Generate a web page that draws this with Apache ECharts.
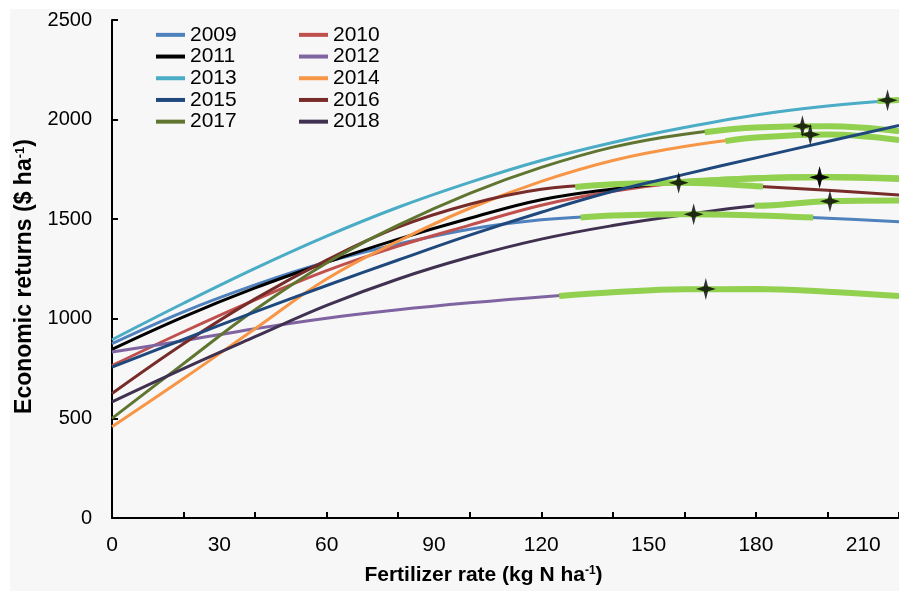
<!DOCTYPE html>
<html>
<head>
<meta charset="utf-8">
<script src="https://cdn.jsdelivr.net/npm/echarts@6/dist/echarts.min.js"></script>
<style>
	body { margin: 0; background: #fff; }
	#chart { width: 899px; height: 591px; }
</style>
</head>
<body>
<div id="chart"></div>
<script>
var font = '"Liberation Sans", Arial, sans-serif';

var years = ['2009', '2010', '2011', '2012', '2013', '2014', '2015', '2016', '2017', '2018'];
var colors = ['#4f81bd', '#c0504d', '#000000', '#8064a2', '#4bacc6', '#f79646', '#1f497d', '#772c2a', '#5f7530', '#403151'];
var green = '#92d050';

// fertilizer rate (kg N/ha) where each curve was read
var rates = [0, 20, 40, 60, 80, 100, 120, 140, 160, 180, 200, 220];

// economic returns ($/ha)
var returns2009 = [875, 1035, 1170, 1285, 1375, 1450, 1497, 1518, 1525, 1519, 1505, 1487];
var returns2010 = [765, 935, 1095, 1242, 1365, 1470, 1570, 1640, 1686, 1705, 1710, 1702];
var returns2011 = [847, 1010, 1155, 1283, 1400, 1505, 1598, 1652, 1688, 1706, 1712, 1705];
var returns2012 = [833, 890, 950, 1003, 1045, 1080, 1110, 1133, 1148, 1149, 1136, 1114];
var returns2013 = [895, 1078, 1253, 1415, 1560, 1685, 1795, 1885, 1960, 2023, 2068, 2098];
var returns2014 = [458, 700, 950, 1200, 1390, 1555, 1690, 1795, 1865, 1910, 1925, 1897];
var returns2015 = [757, 897, 1035, 1167, 1295, 1420, 1535, 1640, 1725, 1808, 1890, 1970];
var returns2016 = [625, 875, 1100, 1295, 1460, 1575, 1650, 1676, 1683, 1666, 1645, 1622];
var returns2017 = [500, 775, 1045, 1280, 1470, 1630, 1760, 1862, 1927, 1960, 1966, 1942];
var returns2018 = [583, 750, 910, 1067, 1200, 1310, 1400, 1468, 1522, 1567, 1590, 1594];
var returnsByYear = [returns2009, returns2010, returns2011, returns2012, returns2013,
	returns2014, returns2015, returns2016, returns2017, returns2018];

// green (near-optimum) stretch of each curve, null = none
var greenStartX = [131, 158, 158, 125, 214, 171.5, null, 129.5, 165.7, 179.6];
var greenStartY = [1508, 1683, 1683, 1115, 2093, 1892, null, 1662, 1937, 1567];
var greenEndX = [196, 220, 220, 220, 220, 220, null, 182, 220, 220];
var greenEndY = [1508, 1702, 1705, 1114, 2098, 1897, null, 1664, 1942, 1594];

// economic optimum (stars)
var optimumX = [162.6, 197.8, 197.8, 166, 216.8, 195.2, null, 158.4, 193, 200.7];
var optimumY = [1525, 1710, 1710, 1150, 2097, 1925, null, 1683, 1967, 1590];

var legendLeft = ['2009', '2011', '2013', '2015', '2017'];
var legendRight = ['2010', '2012', '2014', '2016', '2018'];

function pairs(xs, ys) {
	return xs.map(function(x, i) { return [x, ys[i]]; });
}

function greenPoints(i) {
	var sx = greenStartX[i], ex = greenEndX[i];
	var pts = [[sx, greenStartY[i]]];
	rates.forEach(function(x, k) {
		if (x > sx && x < ex) pts.push([x, returnsByYear[i][k]]);
	});
	pts.push([ex, greenEndY[i]]);
	return pts;
}

var series = [];
years.forEach(function(year, i) {
	series.push({
		name: year,
		type: 'line',
		smooth: 0.4,
		showSymbol: false,
		silent: true,
		color: colors[i],
		lineStyle: { width: 3, color: colors[i] },
		z: year === '2015' ? 4 : 2,
		data: pairs(rates, returnsByYear[i])
	});
});
years.forEach(function(year, i) {
	if (greenStartX[i] === null) return;
	series.push({
		name: year + ' range',
		type: 'line',
		smooth: 0.4,
		showSymbol: false,
		silent: true,
		color: green,
		lineStyle: { width: 6, color: green },
		z: 3,
		data: greenPoints(i)
	});
});
var stars = [];
optimumX.forEach(function(x, i) {
	if (x !== null) stars.push([x, optimumY[i]]);
});
series.push({
	name: 'optimum',
	type: 'scatter',
	silent: true,
	symbol: 'path://M10,0 L12.2,7.8 L20,10 L12.2,12.2 L10,20 L7.8,12.2 L0,10 L7.8,7.8 Z',
	symbolSize: [20, 22],
	itemStyle: { color: '#000' },
	z: 5,
	data: stars
});

function legend(names, left) {
	return {
		data: names,
		orient: 'vertical',
		left: left,
		top: 19,
		itemGap: 0,
		itemWidth: 29,
		itemHeight: 4,
		icon: 'rect',
		selectedMode: false,
		textStyle: { fontFamily: font, fontSize: 21, color: '#000', lineHeight: 21.7 }
	};
}

var chart = echarts.init(document.getElementById('chart'));
chart.setOption({
	animation: false,
	backgroundColor: '#ffffff',
	graphic: [{
		type: 'rect',
		z: -10,
		silent: true,
		shape: { x: 10, y: 9, width: 889, height: 582 },
		style: { fill: '#f7f7f7' }
	}],
	legend: [legend(legendLeft, 151), legend(legendRight, 294)],
	grid: { left: 112, right: -11, top: 20, bottom: 71 },
	xAxis: [{
		type: 'value',
		min: 0,
		max: 220,
		interval: 30,
		name: 'Fertilizer rate (kg N ha{sup|-1})',
		nameLocation: 'middle',
		nameGap: 47,
		nameTextStyle: {
			fontFamily: font, fontSize: 21, fontWeight: 'bold', color: '#000',
			padding: [0, 44, 0, 0],
			rich: { sup: { fontFamily: font, fontSize: 12, fontWeight: 'bold', color: '#000', verticalAlign: 'top' } }
		},
		axisLine: { lineStyle: { color: '#000', width: 2 } },
		axisTick: { show: false },
		splitLine: { show: false },
		axisLabel: { fontFamily: font, fontSize: 21, color: '#000', margin: 17, showMaxLabel: false }
	}, {
		type: 'value',
		position: 'bottom',
		min: 0,
		max: 220,
		interval: 20,
		axisLine: { show: false },
		axisTick: { inside: true, length: 6, lineStyle: { color: '#000', width: 2 } },
		axisLabel: { show: false },
		splitLine: { show: false }
	}],
	yAxis: {
		type: 'value',
		min: 0,
		max: 2500,
		interval: 500,
		name: 'Economic returns ($ ha{sup|-1})',
		nameLocation: 'middle',
		nameGap: 74,
		nameTextStyle: {
			fontFamily: font, fontSize: 23, fontWeight: 'bold', color: '#000',
			padding: [0, 15, 0, 0],
			rich: { sup: { fontFamily: font, fontSize: 13, fontWeight: 'bold', color: '#000', verticalAlign: 'top' } }
		},
		axisLine: { show: true, lineStyle: { color: '#000', width: 2 } },
		axisTick: { show: true, inside: true, length: 6, lineStyle: { color: '#000', width: 2 } },
		splitLine: { show: false },
		axisLabel: {
			fontFamily: font, fontSize: 20, color: '#000', margin: 20,
			formatter: function(value) { return String(value); }
		}
	},
	series: series
});
</script>
</body>
</html>
